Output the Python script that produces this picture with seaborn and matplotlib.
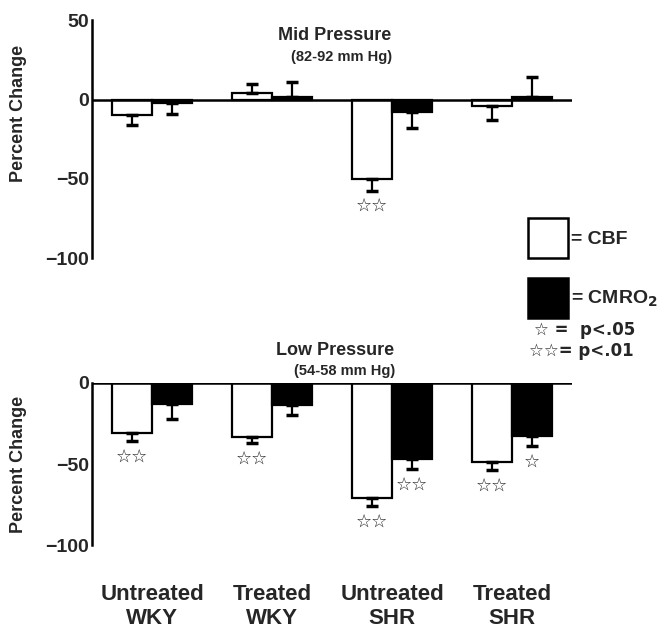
import numpy as np
import pandas as pd
import seaborn as sns
import matplotlib.pyplot as plt
from matplotlib.patches import Rectangle

groups = ["Untreated\nWKY", "Treated\nWKY", "Untreated\nSHR", "Treated\nSHR"]
measures = ["CBF", "CMRO2"]

# Mid pressure (82-92 mm Hg)
mid_cbf = [-10, 4, -50, -4]
mid_cbf_err = [6, 6, 7.5, 9]
mid_cmro2 = [-2, 1.5, -8, 1.5]
mid_cmro2_err = [7, 9.5, 10, 13]
mid_stars_cbf = ["", "", "\u2606\u2606", ""]
mid_stars_cmro2 = ["", "", "", ""]

# Low pressure (54-58 mm Hg)
low_cbf = [-31, -33.5, -71, -49]
low_cbf_err = [5, 3.5, 5, 4.5]
low_cmro2 = [-13, -13.5, -47, -33]
low_cmro2_err = [9, 6, 6, 6]
low_stars_cbf = ["\u2606\u2606", "\u2606\u2606", "\u2606\u2606", "\u2606\u2606"]
low_stars_cmro2 = ["", "", "\u2606\u2606", "\u2606"]

sns.set_style("white")
plt.rcParams['font.family'] = ['Liberation Sans', 'DejaVu Sans']
plt.rcParams['font.weight'] = 'bold'

fig = plt.figure(figsize=(6.67, 6.34), dpi=100)
ax1 = fig.add_axes([0.138, 0.593, 0.72, 0.375])
ax2 = fig.add_axes([0.138, 0.140, 0.72, 0.256])


def draw_panel(ax, cbf, cbf_err, cmro2, cmro2_err, stars_cbf, stars_cmro2, ylim, yticks):
    df = pd.DataFrame({
        "group": groups * 2,
        "measure": ["CBF"] * 4 + ["CMRO2"] * 4,
        "value": cbf + cmro2,
    })
    sns.barplot(data=df, x="group", y="value", hue="measure", order=groups,
                hue_order=measures, palette={"CBF": "white", "CMRO2": "black"},
                edgecolor="black", linewidth=1.6, width=0.667, errorbar=None,
                legend=False, ax=ax)
    errs = [cbf_err, cmro2_err]
    stars = [stars_cbf, stars_cmro2]
    bar_containers = list(ax.containers[:2])
    for k, cont in enumerate(bar_containers):
        for i, bar in enumerate(cont.patches):
            xc = bar.get_x() + bar.get_width() / 2
            h = bar.get_height()
            e = errs[k][i]
            if h >= 0:
                yerr = [[0], [e]]
            else:
                yerr = [[e], [0]]
            ax.errorbar(xc, h, yerr=yerr, fmt="none", ecolor="black",
                        elinewidth=1.6, capsize=4, capthick=2.5, zorder=1)
            if stars[k][i]:
                ax.text(xc, h - e - 4, stars[k][i], ha="center", va="top",
                        fontsize=13, fontweight="bold", family="DejaVu Sans")
    ax.axhline(0, color="black", lw=1.8, zorder=3)
    ax.set_xlim(-0.5, 3.5)
    ax.set_ylim(*ylim)
    ax.set_yticks(yticks)
    ax.set_yticklabels([str(t).replace("-", "\u2212") for t in yticks],
                       fontsize=14, fontweight="bold")
    ax.tick_params(axis="y", length=0, pad=2)
    ax.set_ylabel("Percent Change", fontsize=13, fontweight="bold")
    ax.set_xlabel("")
    for s in ["top", "right", "bottom"]:
        ax.spines[s].set_visible(False)
    ax.spines["left"].set_linewidth(1.8)
    ax.spines["left"].set_color("black")


draw_panel(ax1, mid_cbf, mid_cbf_err, mid_cmro2, mid_cmro2_err,
           mid_stars_cbf, mid_stars_cmro2, (-100, 50), [50, 0, -50, -100])
ax1.set_xticks([])
ax1.yaxis.set_label_coords(-0.135, 0.61)

draw_panel(ax2, low_cbf, low_cbf_err, low_cmro2, low_cmro2_err,
           low_stars_cbf, low_stars_cmro2, (-100, 0), [0, -50, -100])
ax2.set_xticks(range(4))
ax2.set_xticklabels(groups, fontsize=16, fontweight="bold", linespacing=1.2)
ax2.tick_params(axis="x", length=0, pad=28)
ax2.yaxis.set_label_coords(-0.135, 0.5)

# panel titles
fig.text(0.502, 0.944, "Mid Pressure", ha="center", va="center", fontsize=13, fontweight="bold")
fig.text(0.512, 0.910, "(82-92 mm Hg)", ha="center", va="center", fontsize=10.5, fontweight="bold")
fig.text(0.502, 0.447, "Low Pressure", ha="center", va="center", fontsize=13, fontweight="bold")
fig.text(0.517, 0.415, "(54-58 mm Hg)", ha="center", va="center", fontsize=10.5, fontweight="bold")

# legend
fig.patches.append(Rectangle((528 / 667, 1 - 258 / 634), 40 / 667, 40 / 634,
                             transform=fig.transFigure, facecolor="white",
                             edgecolor="black", lw=1.8))
fig.patches.append(Rectangle((528 / 667, 1 - 318 / 634), 40 / 667, 40 / 634,
                             transform=fig.transFigure, facecolor="black",
                             edgecolor="black", lw=1.8))
fig.text(571 / 667, 1 - 239 / 634, "= CBF", ha="left", va="center", fontsize=14, fontweight="bold")
fig.text(571 / 667, 1 - 299 / 634, "= CMRO$_\\mathbf{2}$", ha="left", va="center", fontsize=14, fontweight="bold")
fig.text(534 / 667, 1 - 330 / 634, "\u2606 =  p<.05", ha="left", va="center", fontsize=12,
         fontweight="bold", family=["DejaVu Sans"])
fig.text(529 / 667, 1 - 351 / 634, "\u2606\u2606= p<.01", ha="left", va="center", fontsize=12,
         fontweight="bold", family=["DejaVu Sans"])

fig.savefig("out.png", dpi=100)
